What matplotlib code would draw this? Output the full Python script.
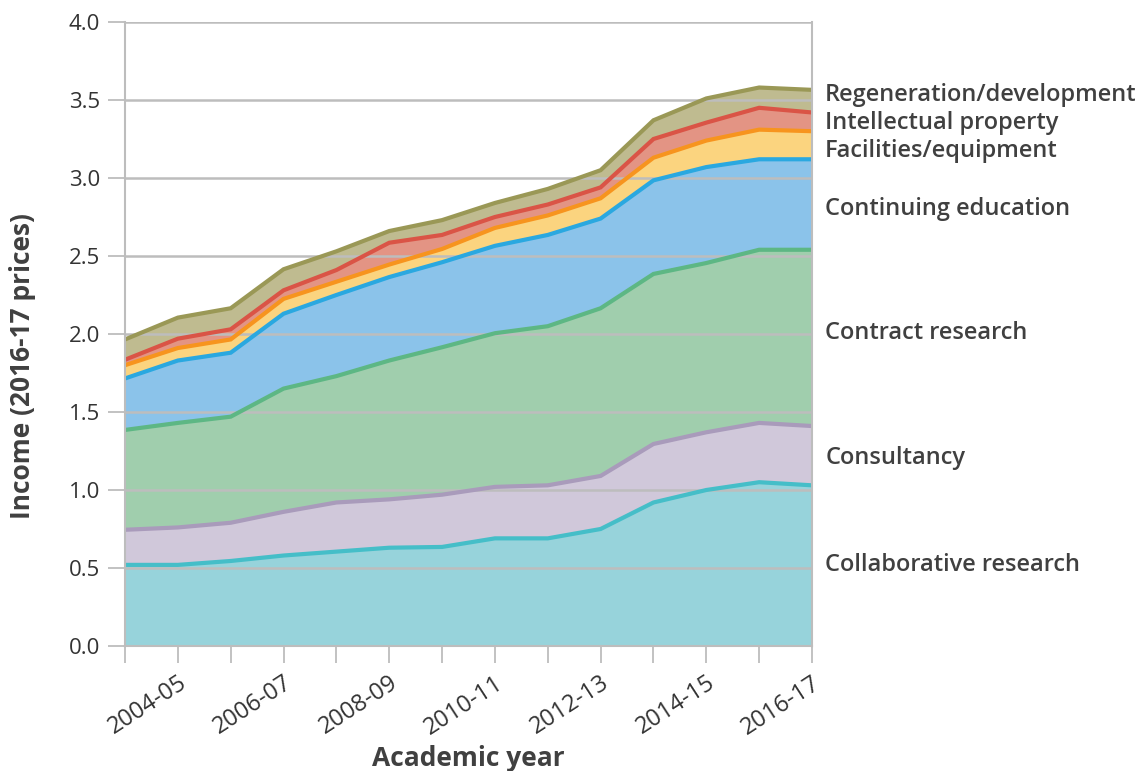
import matplotlib
matplotlib.use("Agg")
import matplotlib.pyplot as plt
import numpy as np

years = ["2003-04", "2004-05", "2005-06", "2006-07", "2007-08", "2008-09", "2009-10",
         "2010-11", "2011-12", "2012-13", "2013-14", "2014-15", "2015-16", "2016-17"]

collaborative = [0.52, 0.52, 0.545, 0.58, 0.605, 0.63, 0.635, 0.69, 0.69, 0.75, 0.92, 1.00, 1.05, 1.03]
consultancy = [0.225, 0.24, 0.245, 0.28, 0.315, 0.31, 0.335, 0.33, 0.34, 0.34, 0.375, 0.37, 0.38, 0.38]
contract = [0.64, 0.67, 0.68, 0.79, 0.81, 0.89, 0.945, 0.985, 1.02, 1.075, 1.09, 1.085, 1.11, 1.13]
continuing = [0.33, 0.40, 0.41, 0.48, 0.52, 0.535, 0.545, 0.56, 0.585, 0.575, 0.60, 0.615, 0.58, 0.58]
facilities = [0.085, 0.08, 0.085, 0.095, 0.085, 0.08, 0.085, 0.115, 0.125, 0.13, 0.145, 0.17, 0.19, 0.18]
intellectual = [0.035, 0.06, 0.065, 0.055, 0.075, 0.14, 0.09, 0.07, 0.07, 0.07, 0.12, 0.115, 0.14, 0.12]
regeneration = [0.13, 0.135, 0.135, 0.135, 0.12, 0.075, 0.095, 0.09, 0.10, 0.11, 0.12, 0.155, 0.13, 0.145]

series_names = ["Collaborative research", "Consultancy", "Contract research",
                "Continuing education", "Facilities/equipment", "Intellectual property",
                "Regeneration/development"]
series = [collaborative, consultancy, contract, continuing, facilities, intellectual, regeneration]
fill_colors = ["#97D3DB", "#D0C8DA", "#A0CEAD", "#8BC3EA", "#FBD47F", "#E39484", "#BFBB90"]
line_colors = ["#45BEC8", "#A99BBB", "#5DB784", "#2AA8E0", "#F7941E", "#DA5446", "#9A9856"]

plt.rcParams['font.family'] = ['Open Sans', 'DejaVu Sans']
text_color = "#404040"

fig = plt.figure(figsize=(11.46, 7.71), dpi=100)
ax = fig.add_axes([125/1146, 1-646/771, (812-125)/1146, (646-22)/771])

x = np.arange(len(years))
cum = np.zeros(len(years))
tops = []
for vals, fc in zip(series, fill_colors):
    top = cum + np.array(vals)
    ax.fill_between(x, cum, top, color=fc, lw=0, zorder=1)
    tops.append(top)
    cum = top
for top, lc in zip(tops, line_colors):
    ax.plot(x, top, color=lc, lw=3, zorder=3, solid_joinstyle='miter')

ax.set_xlim(0, len(years) - 1)
ax.set_ylim(0, 4.0)
ax.set_yticks(np.arange(0, 4.01, 0.5))
ax.set_yticklabels([f"{v:.1f}" for v in np.arange(0, 4.01, 0.5)])
ax.set_xticks(x)
ax.set_xticklabels([y if i % 2 == 1 else "" for i, y in enumerate(years)],
                   rotation=33, ha='right', rotation_mode='anchor')
ax.grid(axis='y', color="#BDBDBD", lw=1.8, zorder=2)
ax.set_axisbelow(False)
ax.spines['top'].set_visible(False)
for s in ['left', 'right', 'bottom']:
    ax.spines[s].set_color("#BDBDBD")
    ax.spines[s].set_linewidth(1.5)
    ax.spines[s].set_zorder(4)
ax.tick_params(axis='y', length=12, width=1.3, color="#BDBDBD", labelsize=16,
               labelcolor="#333333", pad=6)
ax.tick_params(axis='x', length=12, width=1.3, color="#BDBDBD", labelsize=17,
               labelcolor="#333333", pad=6)

ax.set_xlabel("Academic year", fontsize=19, fontweight='bold', color=text_color)
ax.set_ylabel("Income (2016-17 prices)", fontsize=19, fontweight='bold', color=text_color)
ax.xaxis.set_label_coords(0.5, (646 - 745) / 624)
ax.yaxis.set_label_coords((36 - 125) / 687, (646 - 366) / 624)

label_y = {"Regeneration/development": 3.53, "Intellectual property": 3.355,
           "Facilities/equipment": 3.175, "Continuing education": 2.80,
           "Contract research": 2.005, "Consultancy": 1.205, "Collaborative research": 0.52}
for name in series_names:
    ax.text(len(years) - 1 + 0.25, label_y[name], name, fontsize=17, fontweight='semibold',
            color=text_color, va='center', ha='left', clip_on=False)

fig.savefig("out.png", dpi=100)
